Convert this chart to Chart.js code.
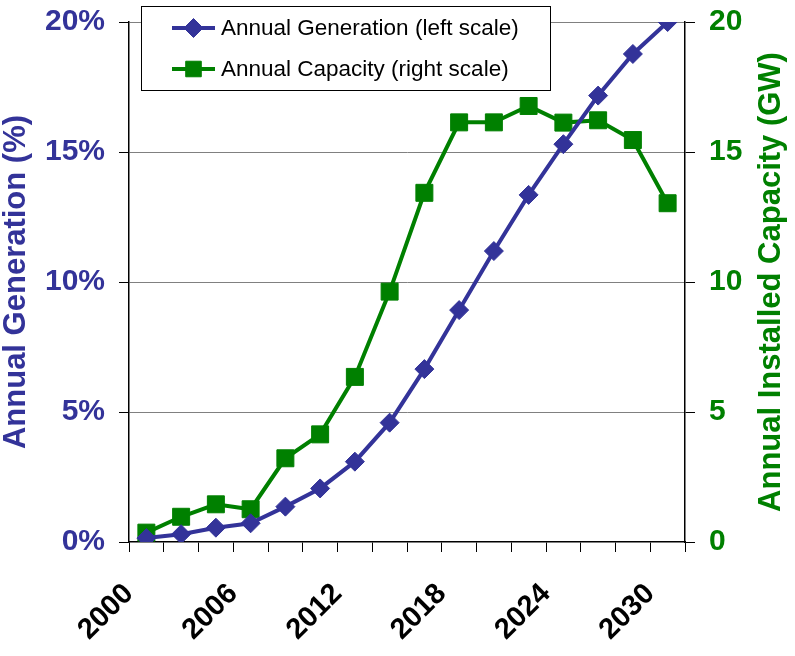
<!DOCTYPE html>
<html>
<head>
<meta charset="utf-8">
<script src="https://cdn.jsdelivr.net/npm/chart.js@4.4.1/dist/chart.umd.min.js"></script>
<style>
  html, body { margin: 0; padding: 0; background: #fff; }
  #wrap { width: 795px; height: 656px; }
</style>
</head>
<body>
<div id="wrap"><canvas id="chart" width="795" height="656"></canvas></div>
<script>
// data, one point every two years
const years = [2001, 2003, 2005, 2007, 2009, 2011, 2013, 2015, 2017, 2019, 2021, 2023, 2025, 2027, 2029, 2031];
const generationPct = [0.15, 0.3, 0.55, 0.72, 1.36, 2.06, 3.09, 4.59, 6.65, 8.92, 11.19, 13.35, 15.3, 17.17, 18.77, 20.0];
const capacityGW = [0.36, 0.97, 1.45, 1.26, 3.22, 4.14, 6.35, 9.63, 13.43, 16.14, 16.14, 16.77, 16.13, 16.22, 15.46, 13.03];
const xLabelYears = [2000, 2006, 2012, 2018, 2024, 2030];
const leftTicks = [0, 5, 10, 15, 20];
const rightTicks = [0, 5, 10, 15, 20];

const seriesNames = ["Annual Generation (left scale)", "Annual Capacity (right scale)"];
const axisTitles = ["Annual Generation (%)", "Annual Installed Capacity (GW)"];

const BLUE = "#333399";
const GREEN = "#008000";
const FONT = "'Liberation Sans', Arial, sans-serif";

// titles and the boxed legend, drawn over the chart like the original
const overlayPlugin = {
  id: "overlay",
  afterDraw(chart) {
    const ctx = chart.ctx;
    const area = chart.chartArea;
    const midY = (area.top + area.bottom) / 2;
    ctx.save();

    // axis titles, both reading bottom to top
    ctx.font = `bold 31px ${FONT}`;
    ctx.textAlign = "center";
    ctx.textBaseline = "middle";
    ctx.translate(16, midY);
    ctx.rotate(-Math.PI / 2);
    ctx.fillStyle = BLUE;
    ctx.fillText(axisTitles[0], 0, 0);
    ctx.setTransform(1, 0, 0, 1, 0, 0);
    ctx.translate(771, midY);
    ctx.rotate(-Math.PI / 2);
    ctx.fillStyle = GREEN;
    ctx.fillText(axisTitles[1], 0, 0);
    ctx.setTransform(1, 0, 0, 1, 0, 0);

    // legend box
    ctx.fillStyle = "#fff";
    ctx.strokeStyle = "#000";
    ctx.lineWidth = 1;
    ctx.fillRect(141.5, 6.5, 409, 84);
    ctx.strokeRect(141.5, 6.5, 409, 84);

    const rows = [
      { y: 28, color: BLUE, style: "rectRot", r: 9.5 },
      { y: 69, color: GREEN, style: "rect", r: 11 }
    ];
    rows.forEach((row, i) => {
      ctx.strokeStyle = row.color;
      ctx.lineWidth = 4;
      ctx.beginPath();
      ctx.moveTo(172, row.y);
      ctx.lineTo(215, row.y);
      ctx.stroke();
      ctx.fillStyle = row.color;
      ctx.lineWidth = 1;
      Chart.helpers.drawPoint(ctx, { pointStyle: row.style, radius: row.r, rotation: 0, borderWidth: 1 }, 193.5, row.y);

      ctx.fillStyle = "#000";
      ctx.font = `22.5px ${FONT}`;
      ctx.textAlign = "left";
      ctx.textBaseline = "middle";
      ctx.fillText(seriesNames[i], 221, row.y + 1);
    });
    ctx.restore();
  }
};

const ctx = document.getElementById("chart").getContext("2d");
const chart = new Chart(ctx, {
  type: "line",
  data: {
    datasets: [
      {
        label: seriesNames[0],
        data: years.map((y, i) => ({ x: y, y: generationPct[i] })),
        yAxisID: "yLeft",
        borderColor: BLUE,
        backgroundColor: BLUE,
        borderWidth: 4,
        pointStyle: "rectRot",
        pointRadius: 9.5,
        pointBorderWidth: 1,
        pointBorderColor: BLUE,
        pointBackgroundColor: BLUE,
        tension: 0,
        order: 1
      },
      {
        label: seriesNames[1],
        data: years.map((y, i) => ({ x: y, y: capacityGW[i] })),
        yAxisID: "yRight",
        borderColor: GREEN,
        backgroundColor: GREEN,
        borderWidth: 4,
        pointStyle: "rect",
        pointRadius: 12,
        pointBorderWidth: 1,
        pointBorderColor: GREEN,
        pointBackgroundColor: GREEN,
        tension: 0,
        order: 2
      }
    ]
  },
  options: {
    responsive: false,
    animation: false,
    devicePixelRatio: 1,
    layout: { padding: { top: 22, left: 0, right: 0, bottom: 0 } },
    plugins: {
      legend: { display: false },
      tooltip: { enabled: false }
    },
    scales: {
      x: {
        type: "linear",
        min: 2000,
        max: 2032,
        afterFit(scale) { scale.height = 114; },
        grid: {
          drawOnChartArea: false,
          tickLength: 10,
          tickColor: "#000"
        },
        border: { color: "#000", width: 1.5 },
        ticks: {
          stepSize: 2,
          autoSkip: false,
          minRotation: 45,
          maxRotation: 45,
          padding: 25,
          color: "#000",
          font: { family: FONT, size: 29, weight: "bold" },
          callback: (v) => (xLabelYears.includes(v) ? String(v) : "")
        }
      },
      yLeft: {
        type: "linear",
        position: "left",
        min: 0,
        max: 20,
        afterFit(scale) { scale.width = 129; },
        afterBuildTicks(scale) { scale.ticks = leftTicks.map((v) => ({ value: v })); },
        grid: {
          color: (c) => (c.tick && c.tick.value === 0 ? "rgba(0,0,0,0)" : "#808080"),
          tickColor: "#000",
          tickLength: 10,
          lineWidth: 1
        },
        border: { color: "#000", width: 1.5 },
        ticks: {
          padding: 14,
          color: BLUE,
          font: { family: FONT, size: 30, weight: "bold", lineHeight: 0.5 },
          callback: (v) => v + "%"
        }
      },
      yRight: {
        type: "linear",
        position: "right",
        min: 0,
        max: 20,
        afterFit(scale) { scale.width = 110; },
        afterBuildTicks(scale) { scale.ticks = rightTicks.map((v) => ({ value: v })); },
        grid: {
          drawOnChartArea: false,
          tickColor: "#000",
          tickLength: 10
        },
        border: { color: "#000", width: 1.5 },
        ticks: {
          padding: 14,
          color: GREEN,
          font: { family: FONT, size: 30, weight: "bold", lineHeight: 0.5 },
          callback: (v) => String(v)
        }
      }
    }
  },
  plugins: [overlayPlugin]
});
</script>
</body>
</html>
